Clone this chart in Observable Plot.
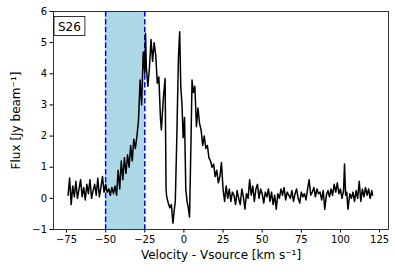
<!DOCTYPE html>
<html>
<head>
<meta charset="utf-8">
<script src="https://cdn.jsdelivr.net/npm/d3@7"></script>
<script src="https://cdn.jsdelivr.net/npm/@observablehq/plot@0.6"></script>
<style>
  html, body { margin: 0; padding: 0; background: white; }
</style>
</head>
<body>
<div id="chart"></div>
<script>
const velocity = [
  -74,-73,-72,-71,-70,-69,-68,-67,-66,-65,-64,-63,-62,-61,-60,-59,-58,-57,-56,-55,
  -54,-53,-52,-51,-50,-49,-48,-47,-46,-45,-44,-43,-42,-41,-40,-39,-38,-37,-36,-35,
  -34,-33,-32,-31,-30,-29,-28,-27,-26,-25,-24.5,-24,-23,-22,-21,-20,-19,-18,-17,-16,
  -15,-14.4,-13,-12,-11.4,-11,-10,-9,-8,-7,-6,-5.5,-4.5,-3.5,-2.7,-2,-1.2,-0.5,0.4,1.2,
  2,2.8,3.6,4.6,5.2,6,7,8,9,10,11,12,13,14,15,16,17,18,19,20,
  21,22,23,24,25,26,27,28,29,30,31,32,33,34,35,36,37,38,39,40,
  41,42,43,44,45,46,47,48,49,50,51,52,53,54,55,56,57,58,59,60,
  61,62,63,64,65,66,67,68,69,70,71,72,73,74,75,76,77,78,79,80,
  81,82,83,84,85,86,87,88,89,90,91,92,93,94,95,96,97,98,99,100,
  101,102,102.6,103.3,104,104.8,106,107,108,109,110,111,112,113,114,115,116,117,118,119,
  120,120.5
];
const flux = [
  0.1,0.65,-0.2,0.4,0.05,0.55,0.0,0.3,0.6,0.05,0.35,-0.05,0.45,0.15,0.6,0.0,0.25,0.45,0.1,0.65,
  0.05,0.35,0.7,0.2,0.45,0.2,0.3,0.1,0.35,0.15,0.4,0.1,0.9,0.3,1.2,0.6,1.3,0.8,1.4,1.0,
  1.7,1.2,1.9,1.6,2.0,2.5,3.8,3.0,4.7,4.0,5.3,4.2,3.6,4.2,5.1,4.4,5.0,4.6,3.7,3.9,
  2.6,2.2,3.3,3.85,0.3,0.05,-0.15,-0.3,-0.2,-0.8,-0.3,-0.1,2.0,4.5,5.35,3.6,3.0,1.95,2.6,0.3,
  -0.1,-0.3,-0.6,2.0,3.8,3.4,3.6,2.3,2.9,2.4,2.2,1.7,2.0,1.6,1.7,1.3,1.2,1.0,1.1,0.7,
  0.9,0.5,0.7,1.15,0.3,-0.1,0.4,0.0,0.3,-0.1,0.2,0.1,-0.2,0.25,0.0,-0.2,0.3,0.05,-0.35,0.15,
  0.0,0.6,0.1,0.4,-0.1,0.3,0.45,0.0,0.3,0.15,-0.15,0.2,0.05,0.3,-0.1,0.2,-0.2,0.1,-0.35,0.15,
  0.0,0.3,0.1,0.35,-0.05,0.2,0.1,0.0,0.25,-0.1,0.15,0.3,0.0,-0.15,0.2,0.05,0.15,-0.05,0.3,0.6,
  0.1,0.2,0.35,0.05,0.3,0.15,0.2,-0.05,0.25,-0.35,0.1,0.25,0.05,0.3,0.1,0.45,0.2,0.5,0.15,0.3,
  0.0,0.25,1.1,0.1,0.2,-0.35,0.15,0.0,0.2,-0.1,0.25,0.0,0.55,-0.1,0.3,0.05,0.35,0.1,0.3,0.0,
  0.25,0.1
];
const spanLimits = [-50, -25];
const xTicks = [-75, -50, -25, 0, 25, 50, 75, 100, 125];
const yTicks = [-1, 0, 1, 2, 3, 4, 5, 6];
const xLabel = "Velocity - Vsource [km s\u207B\u00B9]";
const yLabel = "Flux [Jy beam\u207B\u00B9]";
const sourceLabel = "S26";

const data = velocity.map((v, i) => ({v, f: flux[i]}));
const fmt = d => d < 0 ? "\u2212" + Math.abs(d) : String(d);

const chart = Plot.plot({
  width: 395,
  height: 276,
  marginLeft: 53,
  marginRight: 7,
  marginTop: 11,
  marginBottom: 47,
  style: {fontFamily: "DejaVu Sans", fontSize: "10px", background: "white", color: "black"},
  x: {domain: [-83.3, 130.7]},
  y: {domain: [-1, 6]},
  marks: [
    Plot.rect([{lo: spanLimits[0], hi: spanLimits[1]}], {x1: "lo", x2: "hi", fill: "#add8e6"}),
    Plot.ruleX(spanLimits, {stroke: "blue", strokeWidth: 1.5, strokeDasharray: "5.5,2.4"}),
    Plot.line(data, {x: "v", y: "f", stroke: "black", strokeWidth: 1.5}),
    Plot.frame({stroke: "black", strokeWidth: 0.8}),
    Plot.axisX({ticks: xTicks, tickFormat: fmt, tickSize: 3.5, tickPadding: 3, label: null, fontSize: 10}),
    Plot.axisY({ticks: yTicks, tickFormat: fmt, tickSize: 3.5, tickPadding: 3, label: null, fontSize: 10}),
    Plot.text([xLabel], {text: d => d, frameAnchor: "bottom", dy: 29, fontSize: 12, textAnchor: "middle"}),
    Plot.text([yLabel], {text: d => d, frameAnchor: "left", dx: -37, rotate: -90, fontSize: 12, textAnchor: "middle"}),
    Plot.text([sourceLabel], {text: d => d, frameAnchor: "top-left", dx: 4.5, dy: 10.5, fontSize: 12, textAnchor: "start"})
  ]
});

document.getElementById("chart").appendChild(chart);

// Draw the annotation box around the source label
const svg = d3.select(chart);
svg.selectAll("text").each(function() {
  if (this.textContent === sourceLabel) {
    const b = this.getBBox();
    const parent = this.parentNode;
    const t = this.getAttribute("transform");
    const r = document.createElementNS("http://www.w3.org/2000/svg", "rect");
    const pad = 4;
    r.setAttribute("x", b.x - pad);
    r.setAttribute("y", b.y - 3);
    r.setAttribute("width", b.width + 2 * pad);
    r.setAttribute("height", b.height + 5);
    r.setAttribute("fill", "white");
    r.setAttribute("stroke", "black");
    r.setAttribute("stroke-width", "0.8");
    if (t) r.setAttribute("transform", t);
    parent.insertBefore(r, this);
  }
});
</script>
</body>
</html>
